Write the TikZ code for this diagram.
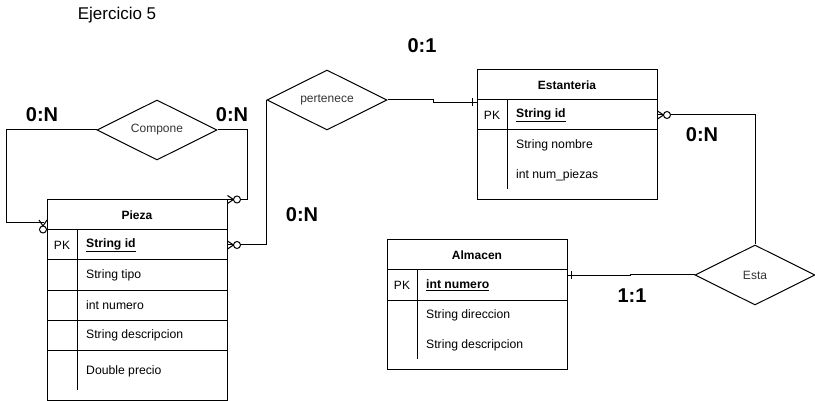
\documentclass[tikz,border=0pt]{standalone}
\usepackage{fontspec}
\setmainfont{Liberation Sans}
\usetikzlibrary{shapes.geometric, positioning, calc}
\definecolor{erline}{RGB}{0,0,0}
\definecolor{ertext}{RGB}{51,51,51}
\tikzset{
    entity/.style={rectangle, draw=erline, line width=1pt, minimum width=180pt, minimum height=30pt, inner sep=0pt, font=\fontsize{12}{14}\selectfont\bfseries},
    rowbox/.style={rectangle, draw=erline, line width=1pt, minimum width=180pt, minimum height=30pt, inner sep=0pt},
    relation/.style={diamond, draw=erline, line width=1pt, aspect=2, minimum width=120pt, minimum height=60pt, inner sep=0pt, font=\fontsize{12}{14}\selectfont, text=ertext},
    attr/.style={anchor=west, inner sep=0pt, font=\fontsize{12.2}{14}\selectfont},
    pklabel/.style={inner sep=0pt, font=\fontsize{12}{14}\selectfont},
    card/.style={inner sep=0pt, font=\fontsize{20}{24}\selectfont\bfseries},
    link/.style={draw=erline, line width=1pt},
    zeromany/.pic={\draw[link] (0,-4) -- (6,0) -- (0,4); \draw[link, fill=white] (9.5,0) circle (3.5pt);},
    onetick/.pic={\draw[link] (4,-4) -- (4,4);},
}
\begin{document}
\begin{tikzpicture}[x=1pt, y=-1pt]
            \useasboundingbox (0,0) rectangle (815,401);
            \node[inner sep=0pt, font=\fontsize{17}{20}\selectfont] (titulo) at (117,15) {Ejercicio 5};
            \node[entity] (pieza) at (137,215) {Pieza};
            \node[rowbox] (piezapk) at (137,245) {};
            \node[rowbox] (piezar1) at (137,275) {};
            \node[rowbox] (piezar2) at (137,305) {};
            \node[rowbox] (piezar3) at (137,335) {};
            \node[rowbox, minimum height=50pt] (piezar4) at (137,375) {};
            \draw[link] (77,230) -- (77,390);
            \node[pklabel] (piezapkl) at (62,245) {PK};
            \node[attr] (piezaid) at (86,245) {\bfseries\underline{String id}};
            \node[attr] (piezatipo) at (86,275) {String tipo};
            \node[attr] (piezanum) at (86,305) {int numero};
            \node[attr] (piezadesc) at (86,335) {String descripcion};
            \node[attr] (piezaprecio) at (86,371) {Double precio};
            \node[entity] (estanteria) at (567,85) {Estanteria};
            \node[rowbox] (estpk) at (567,115) {};
            \node[rowbox, minimum height=70pt] (estbody) at (567,165) {};
            \draw[link] (507,100) -- (507,189);
            \node[pklabel] (estpkl) at (492,115) {PK};
            \node[attr] (estid) at (516,115) {\bfseries\underline{String id}};
            \node[attr] (estnombre) at (516,145) {String nombre};
            \node[attr] (estnum) at (516,175) {int num\_piezas};
            \node[entity] (almacen) at (477,255) {Almacen};
            \node[rowbox] (almpk) at (477,285) {};
            \node[rowbox, minimum height=69pt] (almbody) at (477,334.5) {};
            \draw[link] (417,270) -- (417,359);
            \node[pklabel] (almpkl) at (402,285) {PK};
            \node[attr] (almnum) at (426,285) {\bfseries\underline{int numero}};
            \node[attr] (almdir) at (426,315) {String direccion};
            \node[attr] (almdesc) at (426,345) {String descripcion};
            \node[relation] (compone) at (157,130) {Compone};
            \node[relation] (pertenece) at (327,100) {pertenece};
            \node[relation] (esta) at (755,275) {Esta};
            \coordinate (cfoot) at (44,223);
            \draw[link] (compone.west) -- ++(-90,0) |- (cfoot);
            \pic[rotate=-90] at (43,220) {zeromany};
            \draw[link] (compone.east) -- ++(30,0) |- (pieza.north east);
            \pic at (pieza.north east) {zeromany};
            \draw[link] (pertenece.west) |- (piezapk.east);
            \pic at (piezapk.east) {zeromany};
            \draw[link] (pertenece.east) -- ++(46,0) |- ($(estpk.north west)+(0,3)$);
            \pic[rotate=180] at ($(estpk.north west)+(0,3)$) {onetick};
            \draw[link] (estpk.east) -| (esta.north);
            \pic at (estpk.east) {zeromany};
            \draw[link] (esta.west) -- ++(-64,0) |- ($(almpk.north east)+(0,6)$);
            \pic at ($(almpk.north east)+(0,6)$) {onetick};
            \node[card] (cardcl) at (42,115) {0:N};
            \node[card] (cardcr) at (232,115) {0:N};
            \node[card] (cardpp) at (302,215) {0:N};
            \node[card] (cardpe) at (422,46) {0:1};
            \node[card] (cardee) at (702,135) {0:N};
            \node[card] (cardea) at (632,296) {1:1};
        \end{tikzpicture}
\end{document}
